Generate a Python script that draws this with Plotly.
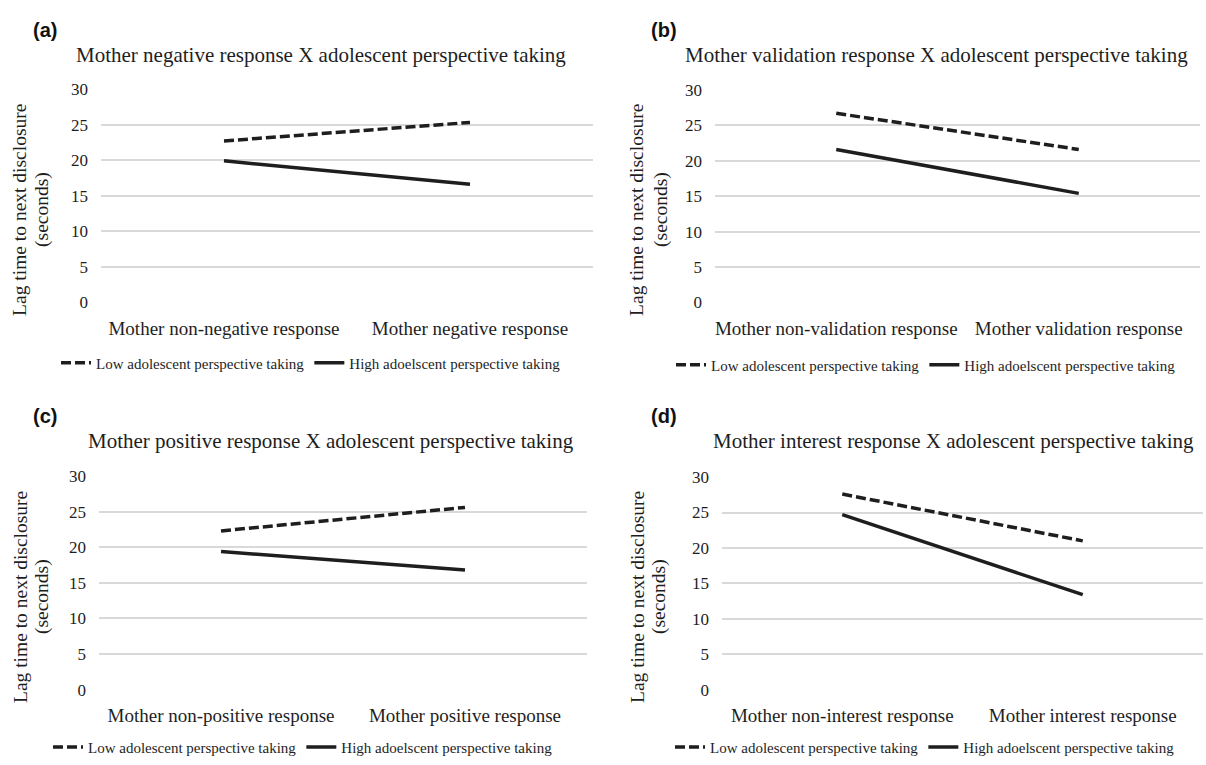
import plotly.graph_objects as go

W, H = 1206, 765

# ---------------- data ----------------
panel_labels = ["(a)", "(b)", "(c)", "(d)"]
titles = [
    "Mother negative response X adolescent perspective taking",
    "Mother validation response X adolescent perspective taking",
    "Mother positive response X adolescent perspective taking",
    "Mother interest response X adolescent perspective taking",
]
categories_a = ["Mother non-negative response", "Mother negative response"]
categories_b = ["Mother non-validation response", "Mother validation response"]
categories_c = ["Mother non-positive response", "Mother positive response"]
categories_d = ["Mother non-interest response", "Mother interest response"]
categories = [categories_a, categories_b, categories_c, categories_d]

low_a = [22.7, 25.3]
low_b = [26.7, 21.6]
low_c = [22.3, 25.6]
low_d = [27.6, 21.0]
high_a = [19.9, 16.6]
high_b = [21.6, 15.4]
high_c = [19.4, 16.8]
high_d = [24.7, 13.4]
low_series = [low_a, low_b, low_c, low_d]
high_series = [high_a, high_b, high_c, high_d]

series_names = ["Low adolescent perspective taking", "High adoelscent perspective taking"]
y_ticks = [0, 5, 10, 15, 20, 25, 30]
y_axis_title = ["Lag time to next disclosure", "(seconds)"]

# ---------------- layout geometry (pixels) ----------------
x_dom_px = [(101, 593), (715, 1200), (99, 587), (722, 1203)]
y_dom_px = [(82, 301), (83, 301), (479, 698), (480, 698)]  # (top, bottom)
title_pos = [(321, 47), (936, 47), (331, 443), (953, 443)]
letter_pos = [(45, 22), (664, 22), (45, 417), (664, 417)]
ytitle_pos = [((20, 42), 206), ((637, 661), 206), ((20, 42), 603), ((637, 659), 603)]
legend_pos = [(311, 363), (926, 365), (303, 757), (925, 757)]

SERIF = "Liberation Serif"
SANS = "Liberation Sans"
INK = "#1e1e1e"
GRID = "#d9d9d9"

fig = go.Figure()
annotations = []
layout_axes = {}

for i in range(4):
    sfx = "" if i == 0 else str(i + 1)
    xa, ya = "x" + sfx, "y" + sfx
    leg = "legend" + sfx
    fig.add_trace(go.Scatter(
        x=categories[i], y=low_series[i], mode="lines", name=series_names[0],
        line=dict(color=INK, width=3.5, dash="10px,4px"),
        xaxis=xa, yaxis=ya, legend=leg, hoverinfo="skip"))
    fig.add_trace(go.Scatter(
        x=categories[i], y=high_series[i], mode="lines", name=series_names[1],
        line=dict(color=INK, width=3.5),
        xaxis=xa, yaxis=ya, legend=leg, hoverinfo="skip"))

    x0, x1 = x_dom_px[i]
    top, bot = y_dom_px[i]
    layout_axes["xaxis" + sfx] = dict(
        domain=[x0 / W, x1 / W], anchor=ya, type="category",
        range=[-0.5, 1.5], showgrid=False, zeroline=False, showline=False,
        ticks="", ticklabelstandoff=12,
        tickfont=dict(family=SERIF, size=19, color=INK), fixedrange=True)
    layout_axes["yaxis" + sfx] = dict(
        domain=[(H - bot) / H, (H - top) / H], anchor=xa,
        range=[0, 30], tickvals=y_ticks, showgrid=True, gridcolor=GRID,
        gridwidth=1.5, zeroline=False, showline=False, ticks="",
        ticklabelstandoff=12,
        tickfont=dict(family=SERIF, size=17, color=INK), fixedrange=True)

    lx, ly = legend_pos[i]
    layout_axes[leg] = dict(
        orientation="h", x=lx / W, y=(H - ly) / H, xanchor="center",
        yanchor="middle", font=dict(family=SERIF, size=15, color=INK),
        bgcolor="rgba(0,0,0,0)", itemwidth=30, tracegroupgap=0)

    tx, ty = title_pos[i]
    annotations.append(dict(
        text=titles[i], x=tx / W, y=(H - ty) / H, xref="paper", yref="paper",
        xanchor="center", yanchor="middle", showarrow=False,
        font=dict(family=SERIF, size=21, color=INK)))
    lx2, ly2 = letter_pos[i]
    annotations.append(dict(
        text="<b>" + panel_labels[i] + "</b>", x=lx2 / W, y=(H - ly2) / H,
        xref="paper", yref="paper", xanchor="center", yanchor="middle",
        showarrow=False, font=dict(family=SANS, size=20, color="#111111")))
    (c1, c2), cy = ytitle_pos[i]
    for cx, txt in zip((c1, c2), y_axis_title):
        annotations.append(dict(
            text=txt, x=cx / W, y=(H - cy) / H, xref="paper", yref="paper",
            xanchor="center", yanchor="middle", showarrow=False, textangle=-90,
            font=dict(family=SERIF, size=19.5, color=INK)))

fig.update_layout(
    width=W, height=H, margin=dict(l=0, r=0, t=0, b=0),
    paper_bgcolor="white", plot_bgcolor="white",
    annotations=annotations, **layout_axes)

fig.write_html("out.html", config={"displayModeBar": False})

# remove the browser's default page margin so the figure fills the window exactly
with open("out.html", "r", encoding="utf-8") as f:
    html = f.read()
html = html.replace("<head>", "<head><style>html,body{margin:0;padding:0;overflow:hidden;}</style>", 1)
with open("out.html", "w", encoding="utf-8") as f:
    f.write(html)
